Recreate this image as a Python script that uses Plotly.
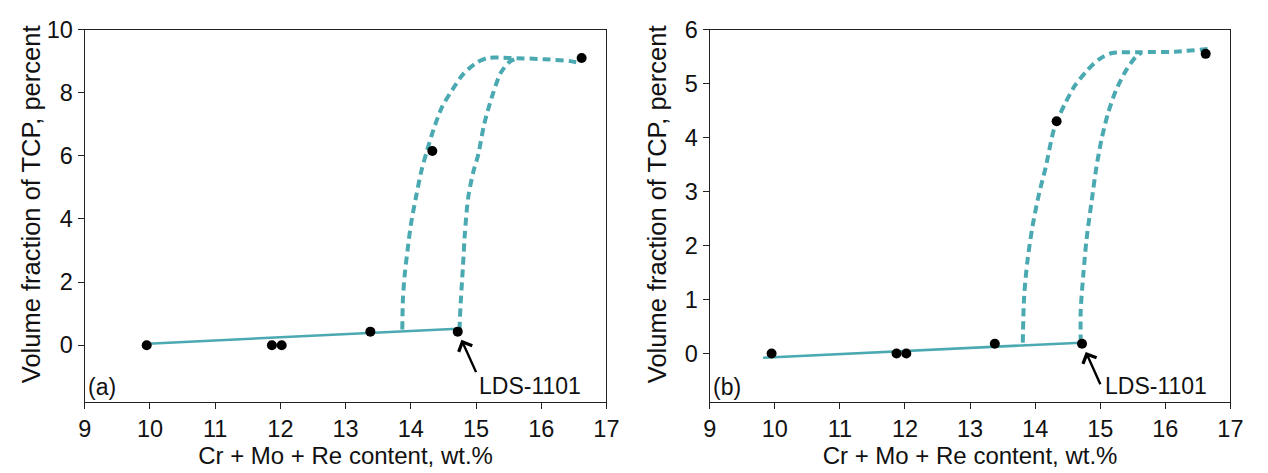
import plotly.graph_objects as go

# Measured samples: total Cr + Mo + Re (wt.%) vs TCP volume fraction (%)
alloy_content = [9.95, 11.87, 12.02, 13.38, 14.33, 14.72, 16.62]
tcp_a = [0.0, 0.0, 0.0, 0.43, 6.15, 0.43, 9.1]
tcp_b = [0.0, 0.0, 0.0, 0.18, 4.3, 0.18, 5.55]

# Linear trend below the threshold
trend_a_x = [9.97, 14.72]
trend_a_y = [0.05, 0.52]
trend_b_x = [9.82, 14.70]
trend_b_y = [-0.08, 0.20]

# Hand-drawn boundaries of the TCP-onset band, panel (a)
band_a_left_x = [13.87, 13.88, 13.91, 13.95, 14.00, 14.08, 14.16, 14.24, 14.35, 14.48,
                 14.63, 14.80, 15.00, 15.18, 15.50, 16.05, 16.45, 16.57]
band_a_left_y = [0.50, 1.50, 2.30, 3.00, 3.80, 4.70, 5.50, 6.10, 6.84, 7.55,
                 8.07, 8.58, 8.94, 9.10, 9.10, 9.06, 9.00, 8.95]
band_a_right_x = [14.75, 14.75, 14.77, 14.80, 14.83, 14.88, 14.96, 15.03, 15.13, 15.26,
                  15.38, 15.51, 15.62]
band_a_right_y = [0.50, 0.70, 1.50, 2.50, 3.55, 4.68, 5.50, 6.00, 7.04, 7.97,
                  8.63, 8.97, 9.08]

# Same band, panel (b)
band_b_left_x = [13.81, 13.83, 13.88, 13.96, 14.06, 14.16, 14.30, 14.46, 14.61, 14.79,
                 14.97, 15.17, 15.60, 16.15, 16.72]
band_b_left_y = [0.20, 1.04, 1.70, 2.36, 2.96, 3.44, 4.20, 4.63, 4.96, 5.23,
                 5.44, 5.56, 5.58, 5.59, 5.65]
band_b_right_x = [14.70, 14.70, 14.74, 14.79, 14.87, 14.94, 15.02, 15.12, 15.24, 15.39,
                  15.55, 15.63]
band_b_right_y = [0.20, 0.80, 1.46, 2.12, 2.84, 3.44, 3.97, 4.45, 4.87, 5.23,
                  5.50, 5.57]

x_ticks = [9, 10, 11, 12, 13, 14, 15, 16, 17]
y_ticks_a = [0, 2, 4, 6, 8, 10]
y_ticks_b = [0, 1, 2, 3, 4, 5, 6]

TEAL = "#4AA9B1"
INK = "#111111"
FONT = "Liberation Sans, Arial, sans-serif"
FS_TICK = 23.5
FS_XTITLE = 24
FS_YTITLE = 25.5
FS_NOTE = 23

fig = go.Figure()

panels = [
    ("x", "y", tcp_a, trend_a_x, trend_a_y,
     (band_a_left_x, band_a_left_y), (band_a_right_x, band_a_right_y)),
    ("x2", "y2", tcp_b, trend_b_x, trend_b_y,
     (band_b_left_x, band_b_left_y), (band_b_right_x, band_b_right_y)),
]

for xa, ya, tcp, tx, ty, left, right in panels:
    for bx, by in (left, right):
        fig.add_trace(go.Scatter(
            x=bx, y=by, xaxis=xa, yaxis=ya, mode="lines",
            line=dict(color=TEAL, width=4, dash="8px,5px", shape="spline", smoothing=0.8),
            hoverinfo="skip", showlegend=False))
    fig.add_trace(go.Scatter(
        x=tx, y=ty, xaxis=xa, yaxis=ya, mode="lines",
        line=dict(color=TEAL, width=2.5), showlegend=False))
    fig.add_trace(go.Scatter(
        x=alloy_content, y=tcp, xaxis=xa, yaxis=ya, mode="markers",
        marker=dict(color="black", size=10), showlegend=False))

axis_common = dict(
    showgrid=False, zeroline=False, showline=True, mirror=True,
    linecolor="#222222", linewidth=1.2, ticks="outside", ticklen=6, tickwidth=1.2,
    tickcolor="#222222", tickfont=dict(family=FONT, size=FS_TICK, color=INK),
)

x_title = dict(text="Cr + Mo + Re content, wt.%",
               font=dict(family=FONT, size=FS_XTITLE, color=INK), standoff=4)

fig.update_layout(
    width=1268, height=473,
    margin=dict(l=0, r=0, t=0, b=0),
    paper_bgcolor="white", plot_bgcolor="white",
    font=dict(family=FONT, size=FS_TICK, color=INK),
    xaxis=dict(domain=[0.0623, 0.4803], range=[9, 17], tickvals=x_ticks,
               title=x_title, anchor="y", **axis_common),
    yaxis=dict(domain=[0.1543, 0.964], range=[-1.8, 10], tickvals=y_ticks_a,
               anchor="x", **axis_common),
    xaxis2=dict(domain=[0.5631, 0.9803], range=[9, 17], tickvals=x_ticks,
                title=x_title, anchor="y2", **axis_common),
    yaxis2=dict(domain=[0.1543, 0.964], range=[-0.9, 6], tickvals=y_ticks_b,
                anchor="x2", **axis_common),
)

# Vertical axis titles, set a little above the middle of each panel
for paper_x in (24 / 1268, 660 / 1268):
    fig.add_annotation(x=paper_x, y=1 - 197 / 473, xref="paper", yref="paper",
                       text="Volume fraction of TCP, percent", textangle=-90,
                       showarrow=False, xanchor="center", yanchor="middle",
                       font=dict(family=FONT, size=FS_YTITLE, color=INK))

# Panel labels and the highlighted alloy
notes = (("x", "y", "(a)", tcp_a[5], 0.752), ("x2", "y2", "(b)", tcp_b[5], 0.756))
for xref, yref, label, tip_y, text_x in notes:
    fig.add_annotation(x=0.0, y=0.040, xref=xref + " domain", yref=yref + " domain",
                       text=label, showarrow=False, xanchor="left", yanchor="middle",
                       xshift=1, font=dict(family=FONT, size=FS_NOTE, color=INK))
    fig.add_annotation(x=text_x, y=0.044, xref=xref + " domain", yref=yref + " domain",
                       text="LDS-1101", showarrow=False, xanchor="left", yanchor="middle",
                       font=dict(family=FONT, size=FS_NOTE, color=INK))
    fig.add_annotation(x=alloy_content[5], y=tip_y, xref=xref, yref=yref,
                       text="", showarrow=True, arrowhead=4, arrowsize=1.2, arrowwidth=2.4,
                       arrowcolor="black", ax=19, ay=42, standoff=9)

fig.write_html("out.html")
